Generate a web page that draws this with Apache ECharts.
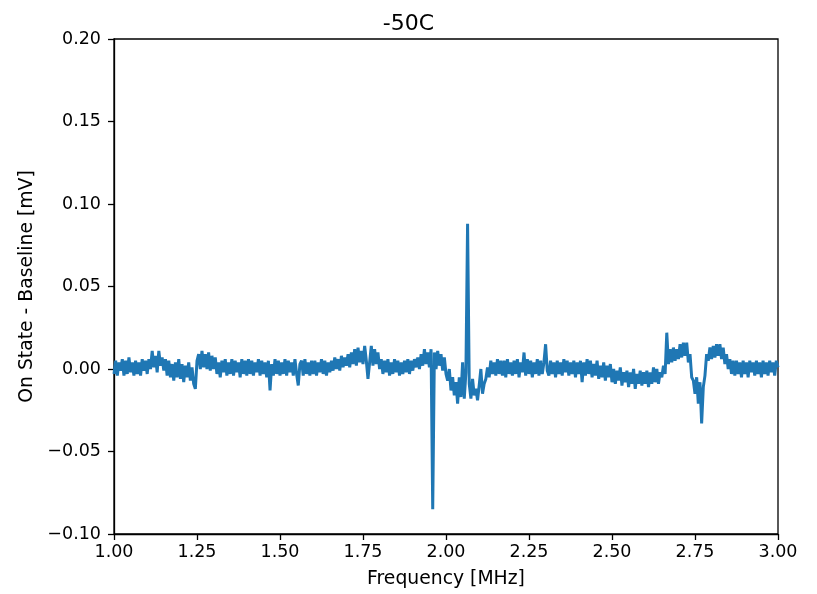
<!DOCTYPE html>
<html>
<head>
<meta charset="utf-8">
<script src="https://cdn.jsdelivr.net/npm/echarts@6/dist/echarts.min.js"></script>
<style>
html,body{margin:0;padding:0;background:#fff;}
#chart{width:817px;height:594px;}
</style>
</head>
<body>
<div id="chart"></div>
<script>
// Chart title and axis names
const chartTitle = "-50C";
const xAxisName = "Frequency [MHz]";
const yAxisName = "On State - Baseline [mV]";

// Frequency grid (MHz): start and spacing of the sampled points
const freqStartMHz = 1.0;
const freqStepMHz = 0.005;

// On State - Baseline [mV], one value per 0.005 MHz, 1.000 .. 3.000
const onMinusBaseline = [
  // 1.000 - 1.095
  -0.003,0.005,-0.004,0.004,-0.001,0.006,-0.004,0.005,-0.003,0.007,-0.002,0.004,-0.004,0.005,-0.003,0.004,-0.004,0.006,-0.001,0.005,
  // 1.100 - 1.195
  -0.003,0.006,0.000,0.011,0.001,0.008,-0.002,0.011,0.002,0.007,-0.001,0.006,-0.004,0.005,-0.005,0.003,-0.007,0.004,-0.005,0.006,
  // 1.200 - 1.295
  -0.006,0.003,-0.008,0.002,-0.005,0.004,-0.007,0.001,-0.009,-0.012,0.005,0.009,0.000,0.011,0.001,0.009,0.000,0.010,-0.001,0.008,
  // 1.300 - 1.395
  0.000,0.007,-0.003,0.004,-0.005,0.005,-0.002,0.006,-0.004,0.004,-0.003,0.006,-0.004,0.005,-0.002,0.004,-0.005,0.006,-0.003,0.005,
  // 1.400 - 1.495
  -0.004,0.006,-0.003,0.005,-0.004,0.004,-0.002,0.006,-0.004,0.005,-0.003,0.004,-0.005,0.005,-0.013,0.003,-0.004,0.006,-0.003,0.005,
  // 1.500 - 1.595
  -0.004,0.004,-0.003,0.006,-0.004,0.005,-0.002,0.004,-0.004,0.006,-0.003,-0.010,0.003,0.005,-0.004,0.006,-0.003,0.004,-0.004,0.005,
  // 1.600 - 1.695
  -0.003,0.005,-0.004,0.004,-0.002,0.006,-0.003,0.005,-0.004,0.004,-0.002,0.005,-0.001,0.007,0.000,0.006,-0.001,0.008,0.001,0.007,
  // 1.700 - 1.795
  0.002,0.009,0.001,0.010,0.003,0.012,0.002,0.013,0.004,0.011,0.003,0.014,0.005,-0.006,0.004,0.014,0.002,0.012,0.003,0.010,
  // 1.800 - 1.895
  0.000,0.006,-0.003,0.005,-0.002,0.006,-0.004,0.004,-0.003,0.006,-0.002,0.005,-0.004,0.004,-0.003,0.005,-0.002,0.006,-0.003,0.005,
  // 1.900 - 1.995
  -0.001,0.006,0.001,0.007,0.000,0.009,0.002,0.012,0.003,0.010,0.001,0.012,-0.085,0.010,0.000,0.011,0.002,0.009,-0.001,0.007,
  // 2.000 - 2.095
  -0.003,-0.007,0.000,-0.013,-0.005,-0.016,-0.008,-0.021,-0.005,-0.017,0.004,-0.018,-0.002,0.088,-0.009,-0.018,-0.006,-0.016,-0.012,-0.019,
  // 2.100 - 2.195
  -0.010,0.000,-0.015,-0.009,-0.006,0.001,-0.005,0.005,-0.003,0.004,-0.004,0.006,-0.003,0.005,-0.004,0.005,-0.005,0.006,-0.003,0.004,
  // 2.200 - 2.295
  -0.004,0.005,-0.003,0.006,-0.005,0.004,-0.002,0.010,-0.004,0.006,-0.003,0.005,-0.005,0.004,-0.003,0.006,-0.004,0.005,-0.003,0.004,
  // 2.300 - 2.395
  0.015,-0.001,-0.004,0.005,-0.003,0.004,-0.005,0.005,-0.003,0.004,-0.004,0.006,-0.002,0.005,-0.004,0.004,-0.003,0.005,-0.005,0.004,
  // 2.400 - 2.495
  -0.003,0.005,-0.008,0.004,-0.004,0.006,-0.003,0.005,-0.005,0.003,-0.004,0.005,-0.006,0.002,-0.005,0.004,-0.007,0.002,-0.005,0.003,
  // 2.500 - 2.595
  -0.008,0.000,-0.009,-0.001,-0.007,0.001,-0.010,-0.002,-0.008,-0.001,-0.011,-0.002,-0.009,0.000,-0.012,-0.003,-0.009,-0.001,-0.010,-0.002,
  // 2.600 - 2.695
  -0.009,-0.001,-0.011,-0.002,-0.009,0.001,-0.008,0.000,-0.009,-0.002,-0.005,0.002,-0.003,0.022,0.003,0.012,0.004,0.013,0.005,0.012,
  // 2.700 - 2.795
  0.006,0.015,0.007,0.016,0.008,0.016,0.004,0.009,-0.005,-0.007,-0.015,-0.005,-0.021,-0.008,-0.033,-0.011,-0.004,0.009,0.005,0.013,
  // 2.800 - 2.895
  0.006,0.014,0.007,0.015,0.008,0.015,0.006,0.013,0.003,0.009,0.000,0.006,-0.003,0.005,-0.004,0.005,-0.003,0.004,-0.005,0.005,
  // 2.900 - 3.000
  -0.003,0.004,-0.005,0.005,-0.002,0.004,-0.004,0.005,-0.003,0.004,-0.005,0.005,-0.003,0.004,-0.004,0.005,-0.002,0.004,-0.004,0.005,0.001
];

// Axis ranges and tick spacing
const xMin = 1.0, xMax = 3.0, xTick = 0.25;
const yMin = -0.10, yMax = 0.20, yTick = 0.05;

const freqMHz = onMinusBaseline.map((_, i) => +(freqStartMHz + i * freqStepMHz).toFixed(3));
const seriesData = freqMHz.map((f, i) => [f, onMinusBaseline[i]]);

const fontFamily = "DejaVu Sans";
const fmt = (v, d) => {
  const s = Math.abs(v).toFixed(d);
  return (v < -1e-9 ? "\u2212" : "") + s;
};

const chart = echarts.init(document.getElementById("chart"), null, {renderer: "canvas"});
chart.setOption({
  animation: false,
  backgroundColor: "#ffffff",
  title: {
    text: chartTitle,
    left: "center",
    top: 8,
    textStyle: {fontFamily, fontSize: 22, fontWeight: "normal", color: "#000"}
  },
  grid: {
    left: 114, right: 39, top: 39, bottom: 59,
    show: true, borderColor: "#000", borderWidth: 1.3, backgroundColor: "transparent"
  },
  xAxis: {
    type: "value",
    min: xMin, max: xMax, interval: xTick,
    name: xAxisName, nameLocation: "middle", nameGap: 36,
    nameTextStyle: {fontFamily, fontSize: 18.8, color: "#000"},
    axisLine: {show: true, onZero: false, lineStyle: {color: "#000", width: 1.3}},
    axisTick: {show: true, inside: false, length: 6, lineStyle: {color: "#000", width: 1.3}},
    axisLabel: {fontFamily, fontSize: 17.5, color: "#000", margin: 9, formatter: v => fmt(v, 2)},
    splitLine: {show: false}
  },
  yAxis: {
    type: "value",
    min: yMin, max: yMax, interval: yTick,
    name: yAxisName, nameLocation: "middle", nameGap: 77, nameRotate: 90,
    nameTextStyle: {fontFamily, fontSize: 18.8, color: "#000"},
    axisLine: {show: true, onZero: false, lineStyle: {color: "#000", width: 1.3}},
    axisTick: {show: true, inside: false, length: 6, lineStyle: {color: "#000", width: 1.3}},
    axisLabel: {fontFamily, fontSize: 17.5, color: "#000", margin: 13, formatter: v => fmt(v, 2)},
    splitLine: {show: false}
  },
  series: [{
    type: "line",
    data: seriesData,
    showSymbol: false,
    symbol: "none",
    lineStyle: {color: "#1f77b4", width: 3},
    clip: true
  }]
});
</script>
</body>
</html>
